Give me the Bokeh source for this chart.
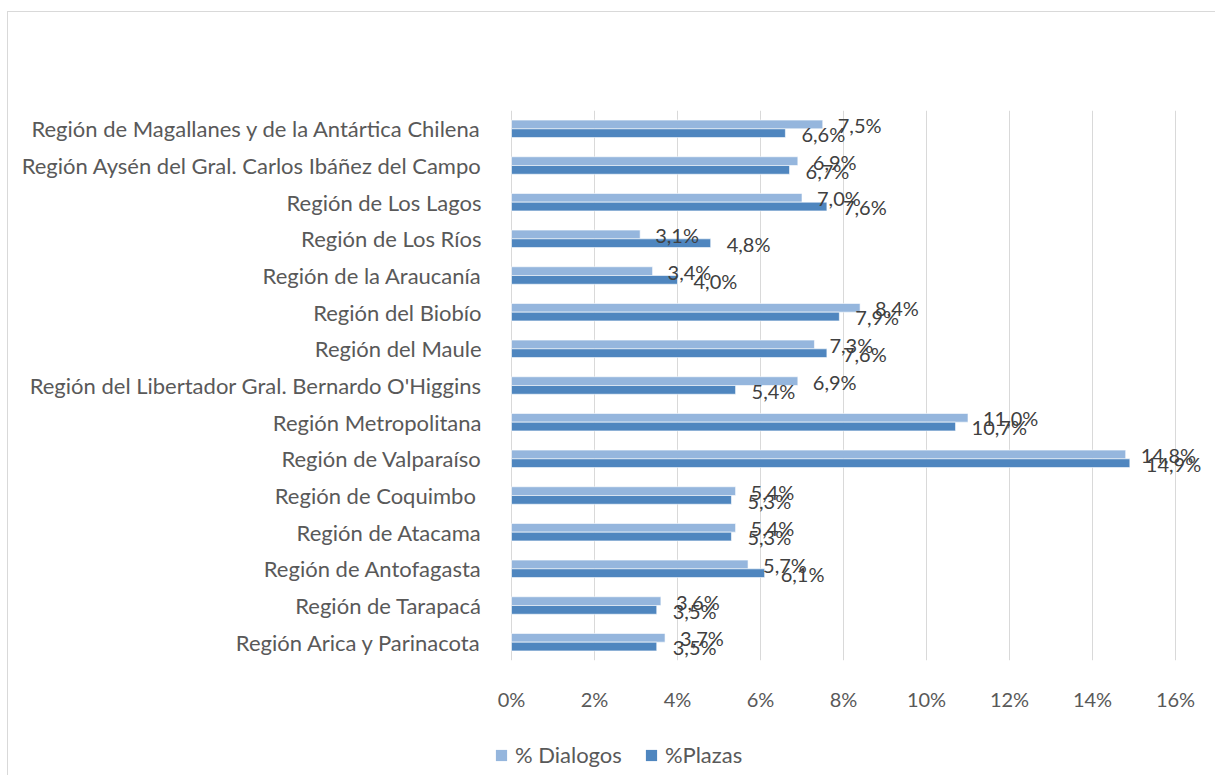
from bokeh.plotting import figure
from bokeh.layouts import column
from bokeh.models import (ColumnDataSource, FactorRange, LabelSet, Legend,
                          LegendItem, Range1d, FixedTicker)
from bokeh.core.properties import value
from bokeh.transform import dodge
from bokeh.embed import file_html
from bokeh.resources import INLINE

# Data (top to bottom as in the reference)
regions = [
    "Región de Magallanes y de la Antártica Chilena",
    "Región Aysén del Gral. Carlos Ibáñez del Campo",
    "Región de Los Lagos",
    "Región de Los Ríos",
    "Región de la Araucanía",
    "Región del Biobío",
    "Región del Maule",
    "Región del Libertador Gral. Bernardo O'Higgins",
    "Región Metropolitana",
    "Región de Valparaíso",
    "Región  de Coquimbo",
    "Región de Atacama",
    "Región de Antofagasta",
    "Región de Tarapacá",
    "Región Arica y Parinacota",
]
dialogos = [7.5, 6.9, 7.0, 3.1, 3.4, 8.4, 7.3, 6.9, 11.0, 14.8, 5.4, 5.4, 5.7, 3.6, 3.7]
plazas = [6.6, 6.7, 7.6, 4.8, 4.0, 7.9, 7.6, 5.4, 10.7, 14.9, 5.3, 5.3, 6.1, 3.5, 3.5]
x_ticks = [0, 2, 4, 6, 8, 10, 12, 14, 16]
series_names = ["% Dialogos", "%Plazas"]

LIGHT = "#95B6DD"
DARK = "#4F86BF"
FONT = "Lato"
GRID = "#d9d9d9"


def fmt(v):
    return f"{v:.1f}%".replace(".", ",")


src = ColumnDataSource(dict(
    region=regions,
    dialogos=dialogos,
    plazas=plazas,
    lab_d=[fmt(v) for v in dialogos],
    lab_p=[fmt(v) for v in plazas],
))

factors = list(reversed(regions))

W = 1215
H1, H2 = 725, 50
LEFT, TOP, BOTTOM = 490, 110, 65      # frame starts 21 px left of the 0% line
PX = 664 / 16.0                        # pixels per percentage point
x_start = -(511 - LEFT) / PX
x_end = (W - 511) / PX

chart_border = {
    "background-image": f"linear-gradient({GRID},{GRID}), linear-gradient({GRID},{GRID})",
    "background-size": "1px 100%, 100% 1px",
    "background-position": "7px 11px, 7px 11px",
    "background-repeat": "no-repeat",
    "background-color": "white",
}
legend_border = {
    "background-image": f"linear-gradient({GRID},{GRID})",
    "background-size": "1px 100%",
    "background-position": "7px 0px",
    "background-repeat": "no-repeat",
    "background-color": "white",
}

p = figure(width=W, height=H1,
           y_range=FactorRange(factors=factors),
           x_range=Range1d(x_start, x_end),
           output_backend="svg", toolbar_location=None,
           min_border_left=LEFT, min_border_right=0,
           min_border_top=TOP, min_border_bottom=BOTTOM,
           styles=chart_border)
p.outline_line_color = None
p.background_fill_alpha = 0
p.border_fill_alpha = 0

bh = 0.238
rd = p.hbar(y=dodge("region", bh / 2, range=p.y_range), left=0, right="dialogos",
            height=bh, source=src, fill_color=LIGHT, line_color="white", line_width=0.6)
rp = p.hbar(y=dodge("region", -bh / 2, range=p.y_range), left=0, right="plazas",
            height=bh, source=src, fill_color=DARK, line_color="white", line_width=0.6)

ld = LabelSet(x="dialogos", y="region", text="lab_d", source=src,
              x_offset=15, y_offset=4, text_baseline="middle", text_align="left",
              text_font=value(FONT), text_font_size="20px", text_color="#404040")
lp = LabelSet(x="plazas", y="region", text="lab_p", source=src,
              x_offset=16, y_offset=-5, text_baseline="middle", text_align="left",
              text_font=value(FONT), text_font_size="20px", text_color="#404040")
p.add_layout(ld)
p.add_layout(lp)

# Axes
p.xaxis.ticker = FixedTicker(ticks=x_ticks)
p.xaxis.major_label_overrides = {t: f"{t}%" for t in x_ticks}
p.xaxis.axis_line_color = None
p.xaxis.major_tick_line_color = None
p.xaxis.minor_tick_line_color = None
p.xaxis.major_label_standoff = 20
p.xaxis.major_label_text_font = FONT
p.xaxis.major_label_text_font_size = "20px"
p.xaxis.major_label_text_color = "#595959"

p.yaxis.axis_line_color = None
p.yaxis.major_tick_line_color = None
p.yaxis.minor_tick_line_color = None
p.yaxis.major_label_standoff = 3
p.yaxis.major_label_text_font = FONT
p.yaxis.major_label_text_font_size = "22px"
p.yaxis.major_label_text_color = "#595959"

p.xgrid.grid_line_color = GRID
p.xgrid.grid_line_width = 1
p.ygrid.grid_line_color = None

# Legend strip (separate small figure below the chart)
pl = figure(width=W, height=H2, x_range=Range1d(0, 1), y_range=Range1d(0, 1),
            x_axis_type=None, y_axis_type=None,
            output_backend="svg", toolbar_location=None,
            min_border_left=LEFT, min_border_right=0,
            min_border_top=0, min_border_bottom=0,
            styles=legend_border)
pl.outline_line_color = None
pl.background_fill_alpha = 0
pl.border_fill_alpha = 0
pl.xgrid.visible = False
pl.ygrid.visible = False
# zero-size bars, only used to give the legend its swatches
gd = pl.hbar(y=0.5, left=0, right=0, height=0, source=src,
             fill_color=LIGHT, line_color=None)
gp = pl.hbar(y=0.5, left=0, right=0, height=0, source=src,
             fill_color=DARK, line_color=None)

legend = Legend(items=[LegendItem(label=series_names[0], renderers=[gd], index=0),
                       LegendItem(label=series_names[1], renderers=[gp], index=0)],
                location=(4, 7), orientation="horizontal",
                glyph_width=14, glyph_height=14, label_standoff=7, spacing=22,
                padding=0, margin=0, border_line_color=None,
                background_fill_alpha=0,
                label_text_font=FONT, label_text_font_size="22px",
                label_text_color="#595959", label_height=22)
pl.add_layout(legend)

layout = column(p, pl, spacing=0)
open("out.html", "w").write(file_html(layout, INLINE))
